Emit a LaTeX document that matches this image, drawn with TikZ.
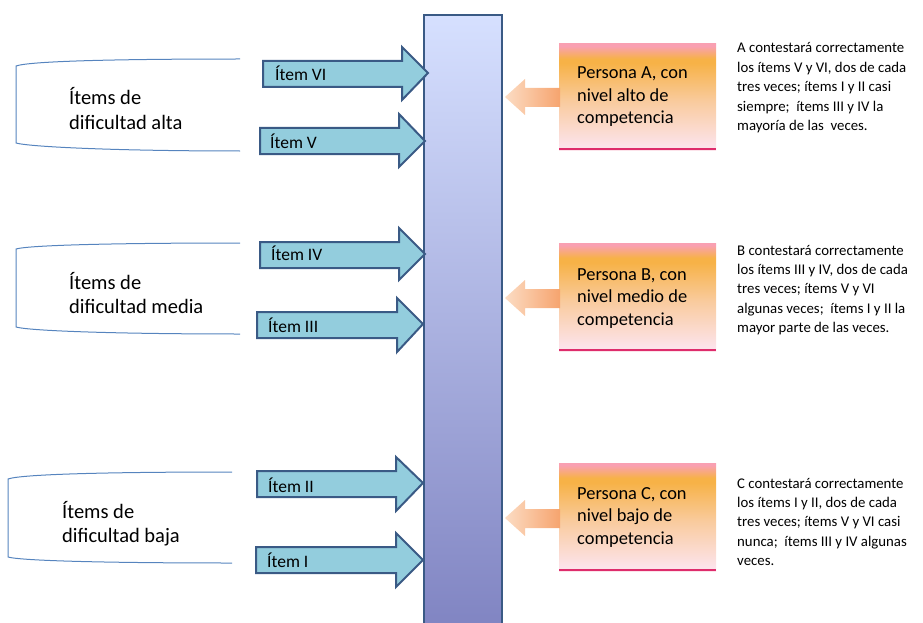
\documentclass[tikz,border=0pt]{standalone}
\usepackage{fontspec}
\setmainfont{Carlito}
\definecolor{arrowfill}{HTML}{93CDDD}
\definecolor{arrowline}{HTML}{3A5A85}
\definecolor{bartop}{HTML}{D6E0FF}
\definecolor{barbot}{HTML}{8084C2}
\definecolor{bracketc}{HTML}{5684BE}
\definecolor{ptop}{HTML}{F9A0B2}
\definecolor{porange}{HTML}{F7B247}
\definecolor{pmid}{HTML}{F9CB9E}
\definecolor{pbot}{HTML}{FCE3EA}
\definecolor{pline}{HTML}{DE2C6C}
\definecolor{sarrowR}{HTML}{F6A46E}
\definecolor{sarrowL}{HTML}{FCDCC4}
\pgfdeclareverticalshading{personashade}{100bp}{color(0bp)=(pbot); color(27bp)=(pbot); color(48bp)=(pmid); color(66bp)=(porange); color(68bp)=(porange); color(74bp)=(ptop); color(100bp)=(ptop)}
\pgfdeclareverticalshading{glowshade}{100bp}{color(0bp)=(white); color(25bp)=(white); color(42bp)=(sarrowR); color(58bp)=(sarrowR); color(75bp)=(white); color(100bp)=(white)}
\newcommand\stacklines[1]{\begin{tabular}[t]{@{}l@{}}#1\end{tabular}}
\begin{document}
\begin{tikzpicture}[x=1pt,y=-1pt,
  itemarrow/.style={fill=arrowfill, draw=arrowline, line width=2pt, line join=miter},
  itemlabel/.style={anchor=base west, inner sep=0pt, font=\fontsize{17.5}{21}\selectfont},
  grouplabel/.style={anchor=base west, inner sep=0pt, font=\fontsize{20.5}{24.5}\selectfont},
  bracketline/.style={draw=bracketc, line width=1pt},
  personabox/.style={shading=personashade},
  personatext/.style={anchor=base west, inner sep=0pt, font=\fontsize{18.4}{22.5}\selectfont},
  desctext/.style={anchor=base west, inner sep=0pt, font=\fontsize{14.8}{19.4}\selectfont},
  smallarrow/.style={left color=sarrowL, right color=sarrowR},
  barstyle/.style={top color=bartop, bottom color=barbot, draw=arrowline, line width=2pt}
]
\useasboundingbox (0,0) rectangle (923,623);

% central bar
\path[barstyle] (424,15) rectangle (502,630);

% brackets
\path[bracketline] (240,59) .. controls (120,59) and (30,61) .. (16,66) -- (16,143) .. controls (30,147) and (120,151) .. (240,151);
\path[bracketline] (240,243) .. controls (120,243) and (30,245) .. (16,249) -- (16,327) .. controls (30,331) and (120,334) .. (240,334);
\path[bracketline] (232,472) .. controls (115,472) and (22,474) .. (8,479) -- (8,557) .. controls (22,561) and (115,563) .. (232,563);

\node[grouplabel] (galta) at (69,105) {\stacklines{Ítems de\\dificultad alta}};
\node[grouplabel] (gmedia) at (69,289) {\stacklines{Ítems de\\dificultad media}};
\node[grouplabel] (gbaja) at (62,518) {\stacklines{Ítems de\\dificultad baja}};

% item arrows
\path[itemarrow] (263,61) -- (402,61) -- (402,47) -- (428,73) -- (402,100) -- (402,87) -- (263,87) -- cycle;
\path[itemarrow] (260,128) -- (399,128) -- (399,114) -- (425,141) -- (399,167) -- (399,154) -- (260,154) -- cycle;
\path[itemarrow] (260,242) -- (399,242) -- (399,228) -- (425,254) -- (399,280) -- (399,268) -- (260,268) -- cycle;
\path[itemarrow] (257,312) -- (397,312) -- (397,298) -- (423,324) -- (397,352) -- (397,338) -- (257,338) -- cycle;
\path[itemarrow] (257,471) -- (396,471) -- (396,457) -- (423,483) -- (396,511) -- (396,497) -- (257,497) -- cycle;
\path[itemarrow] (256,547) -- (396,547) -- (396,533) -- (423,560) -- (396,587) -- (396,573) -- (256,573) -- cycle;

\node[itemlabel] (i6) at (275,81) {Ítem VI};
\node[itemlabel] (i5) at (270,148) {Ítem V};
\node[itemlabel] (i4) at (271,260) {Ítem IV};
\node[itemlabel] (i3) at (268,332) {Ítem III};
\node[itemlabel] (i2) at (268,492) {Ítem II};
\node[itemlabel] (i1) at (267,567) {Ítem I};

% persona boxes
\path[personabox] (559,44) rectangle (716,150);
\draw[pline, line width=2.2pt] (559,149) -- (716,149);
\path[personabox] (559,243) rectangle (716,351);
\draw[pline, line width=2.2pt] (559,350) -- (716,350);
\path[personabox] (559,463) rectangle (716,571);
\draw[pline, line width=2.2pt] (559,570) -- (716,570);

\node[personatext] (pa) at (577,79) {\stacklines{Persona A, con\\nivel alto de\\competencia}};
\node[personatext] (pb) at (577,280) {\stacklines{Persona B, con\\nivel medio de\\competencia}};
\node[personatext] (pc) at (577,499) {\stacklines{Persona C, con\\nivel bajo de\\competencia}};

% small arrows
\path[smallarrow] (560,88) -- (525,88) -- (525,79) -- (505,97) -- (525,115) -- (525,107) -- (560,107) -- cycle;
\path[smallarrow] (560,289) -- (525,289) -- (525,280) -- (505,298) -- (525,316) -- (525,308) -- (560,308) -- cycle;
\path[smallarrow] (560,509) -- (525,509) -- (525,500) -- (505,518) -- (525,536) -- (525,528) -- (560,528) -- cycle;

% descriptions
\node[desctext] (da) at (737,53) {\stacklines{A contestará correctamente\\los ítems V y VI, dos de cada\\tres veces; ítems I y II casi\\siempre;\ \ ítems III y IV la\\mayoría de las\ \ veces.}};
\node[desctext] (db) at (737,255) {\stacklines{B contestará correctamente\\los ítems III y IV, dos de cada\\tres veces; ítems V y VI\\algunas veces;\ \ ítems I y II la\\mayor parte de las veces.}};
\node[desctext] (dc) at (737,488) {\stacklines{C contestará correctamente\\los ítems I y II, dos de cada\\tres veces; ítems V y VI casi\\nunca;\ \ ítems III y IV algunas\\veces.}};
\end{tikzpicture}
\end{document}
